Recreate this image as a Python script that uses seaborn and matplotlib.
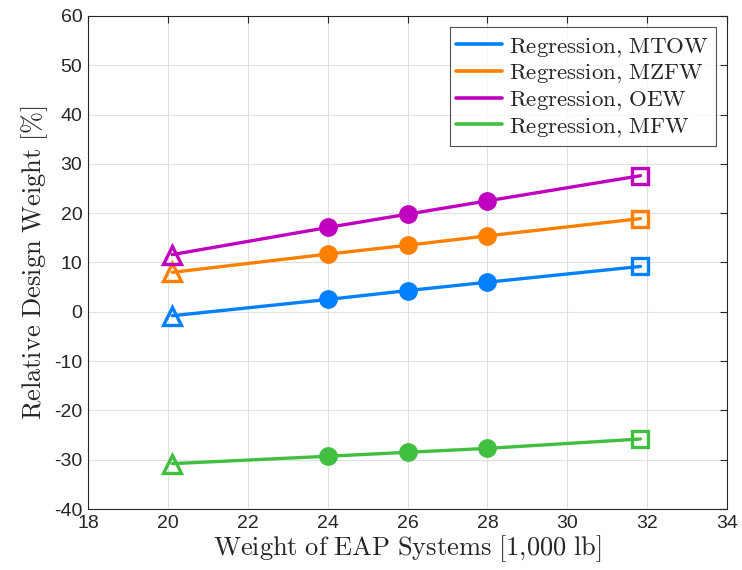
import numpy as np
import pandas as pd
import matplotlib
matplotlib.use("Agg")
import matplotlib.pyplot as plt
import seaborn as sns

# data
eap_weight = [20.11, 24.0, 26.0, 28.0, 31.83]
mtow = [-0.8, 2.5, 4.3, 6.0, 9.2]
mzfw = [8.0, 11.7, 13.5, 15.4, 18.9]
oew = [11.6, 17.1, 19.8, 22.5, 27.6]
mfw = [-30.8, -29.3, -28.5, -27.7, -25.8]
series_names = ["Regression, MTOW", "Regression, MZFW", "Regression, OEW", "Regression, MFW"]
colors = ["#0080ff", "#ff8000", "#bf00bf", "#40bf40"]

rows = []
for name, vals in zip(series_names, [mtow, mzfw, oew, mfw]):
    for i, (x, y) in enumerate(zip(eap_weight, vals)):
        kind = "start" if i == 0 else ("end" if i == len(vals) - 1 else "mid")
        rows.append({"x": x, "y": y, "series": name, "kind": kind})
df = pd.DataFrame(rows)

sns.set_style("white")
plt.rcParams["font.family"] = ["Liberation Sans", "DejaVu Sans"]
plt.rcParams["mathtext.fontset"] = "cm"
plt.rcParams["axes.unicode_minus"] = False

fig = plt.figure(figsize=(7.42, 5.70), dpi=100)
ax = fig.add_axes([0.1186, 0.107, 0.8614, 0.865])

sns.lineplot(data=df, x="x", y="y", hue="series", palette=colors, hue_order=series_names,
             linewidth=2.4, ax=ax, legend=True, sort=True)

for name, c in zip(series_names, colors):
    sub = df[df["series"] == name]
    mid = sub[sub["kind"] == "mid"]
    ax.plot(mid["x"], mid["y"], "o", color=c, markersize=12.5, zorder=3)
    st = sub[sub["kind"] == "start"]
    ax.plot(st["x"], st["y"], "^", mfc="none", mec=c, mew=2.4, markersize=12.5, zorder=3)
    en = sub[sub["kind"] == "end"]
    ax.plot(en["x"], en["y"], "s", mfc="none", mec=c, mew=2.4, markersize=11, zorder=3)

ax.set_xlim(18, 34)
ax.set_ylim(-40, 60)
ax.set_xticks(np.arange(18, 35, 2))
ax.set_yticks(np.arange(-40, 61, 10))
ax.grid(True, color="#e0e0e0", linewidth=0.8)
ax.tick_params(direction="in", length=5, width=0.8, labelsize=14, colors="#262626",
               top=True, right=True, pad=4)
for s in ax.spines.values():
    s.set_color("#262626")
    s.set_linewidth(0.8)

ax.set_xlabel(r"$\mathrm{Weight\ of\ EAP\ Systems\ [1{,}000\ lb]}$", fontsize=19, labelpad=1)
ax.set_ylabel(r"$\mathrm{Relative\ Design\ Weight\ [\%]}$", fontsize=19, labelpad=3)

leg = ax.legend(loc="upper right", frameon=True, fancybox=False,
                edgecolor="#262626", handlelength=2.0, borderpad=0.3, labelspacing=0.1,
                handletextpad=0.3, borderaxespad=0.5, prop={"size": 16.5})
leg.get_frame().set_linewidth(0.8)
for t in leg.get_texts():
    t.set_text(r"$\mathrm{" + t.get_text().replace(",", "{,}").replace(" ", r"\ ") + "}$")
for h in leg.get_lines():
    h.set_linewidth(2.6)

fig.savefig("out.png", dpi=100)
